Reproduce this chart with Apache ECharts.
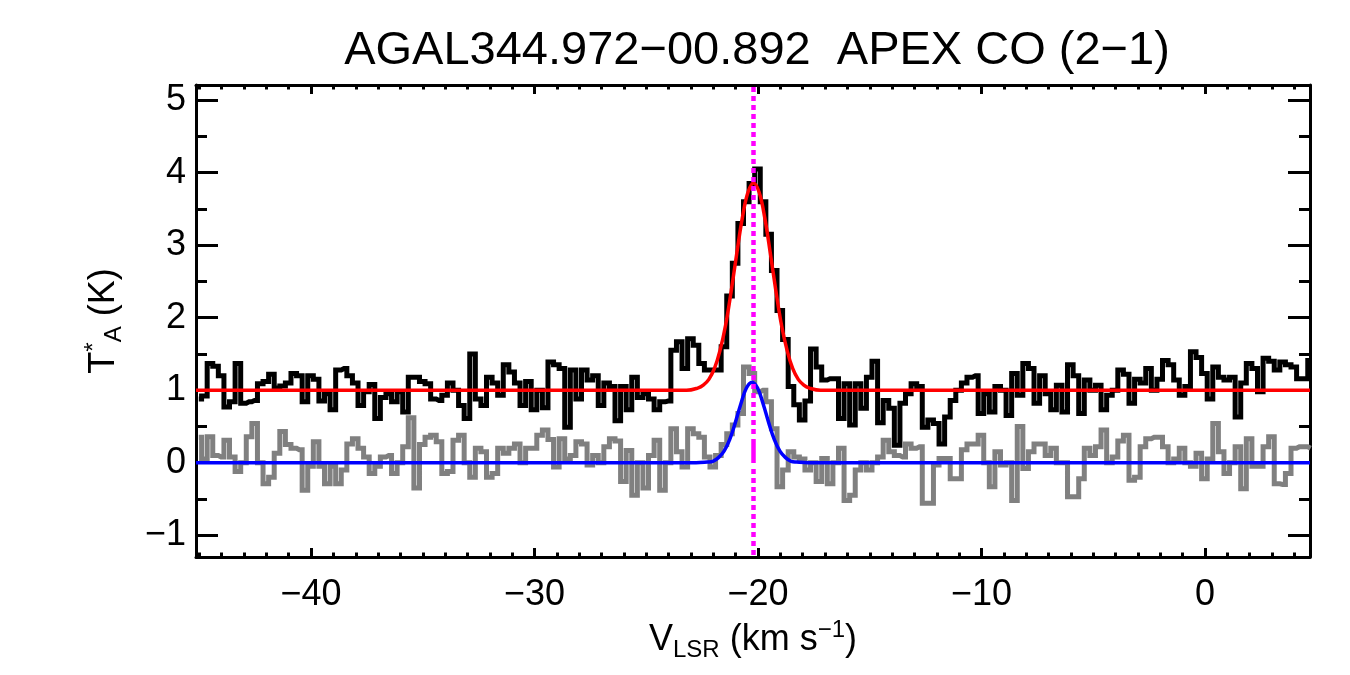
<!DOCTYPE html>
<html>
<head>
<meta charset="utf-8">
<title>AGAL344.972-00.892 APEX CO (2-1)</title>
<script src="https://cdn.jsdelivr.net/npm/echarts@6.0.0/dist/echarts.min.js"></script>
<style>
  html, body { margin: 0; padding: 0; background: #fff; }
  #chart { width: 1350px; height: 675px; }
</style>
</head>
<body>
<div id="chart"></div>
<script>
// spectrum: 0.25 km/s channels, first channel centre at -45.025 km/s
var chanStart = -45.025;
var chanWidth = 0.25;

// CO (2-1), plotted with +1 K offset (black)
var coT = [
  0.88, 0.92, 1.37, 1.33, 1.20, 0.77, 0.84, 1.37, 0.82, 0.84,
  0.86, 1.09, 1.12, 1.22, 1.03, 1.06, 1.10, 1.23, 1.20, 0.84,
  1.20, 1.15, 0.85, 0.95, 0.73, 1.28, 1.30, 1.20, 1.10, 0.79,
  0.98, 1.08, 0.61, 0.90, 0.95, 0.84, 0.98, 0.70, 1.18, 1.18,
  1.12, 1.09, 0.88, 0.86, 0.93, 1.10, 1.00, 0.79, 0.61, 1.50,
  0.88, 0.79, 1.18, 1.10, 0.93, 1.35, 1.25, 1.10, 0.79, 1.12,
  0.73, 1.00, 0.76, 1.39, 1.35, 1.30, 0.49, 1.28, 0.88, 1.28,
  1.14, 1.20, 0.79, 1.10, 1.05, 0.58, 1.05, 0.73, 1.18, 0.90,
  0.95, 0.88, 0.73, 0.84, 0.85, 1.55, 1.67, 1.30, 1.71, 1.62,
  1.37, 1.28, 1.28, 1.28, 1.60, 2.30, 2.75, 3.30, 3.60, 3.85,
  4.05, 3.60, 3.15, 2.65, 2.10, 1.70, 1.05, 0.80, 0.59, 0.85,
  1.57, 1.32, 1.14, 1.16, 1.16, 0.61, 1.09, 0.52, 1.09, 0.75,
  1.18, 1.40, 0.55, 0.86, 0.75, 0.24, 0.82, 0.95, 1.09, 1.05,
  0.49, 0.59, 0.54, 0.26, 0.63, 0.86, 1.00, 1.10, 1.18, 1.20,
  0.68, 0.95, 0.70, 1.05, 1.00, 0.65, 1.23, 0.93, 1.37, 1.30,
  0.82, 1.20, 0.95, 0.73, 1.07, 0.70, 1.35, 1.20, 0.68, 1.14,
  1.00, 1.07, 0.73, 0.93, 1.00, 1.28, 1.22, 0.82, 1.15, 1.10,
  1.30, 1.00, 1.15, 1.41, 1.35, 1.14, 0.93, 1.05, 1.53, 1.45,
  1.23, 0.88, 1.32, 1.18, 1.14, 1.18, 0.63, 1.10, 1.37, 1.30,
  0.98, 1.44, 1.40, 1.28, 1.39, 1.35, 1.32, 1.16, 1.16, 1.41
];

// second spectrum, no offset (grey)
var isoT = [
  0.35, 0.05, 0.36, 0.10, 0.08, 0.31, 0.08, -0.12, 0.00, 0.36,
  0.54, 0.00, -0.29, -0.20, 0.13, 0.43, 0.25, 0.20, 0.18, -0.38,
  -0.05, 0.29, -0.05, -0.29, -0.05, -0.29, -0.10, 0.26, 0.33, 0.20,
  0.08, -0.15, -0.05, 0.08, 0.10, -0.15, 0.00, 0.22, 0.62, -0.35,
  0.25, 0.35, 0.38, 0.29, -0.15, -0.12, 0.31, 0.38, 0.00, -0.20,
  0.20, 0.15, -0.20, -0.15, 0.20, 0.13, 0.20, 0.26, 0.00, 0.20,
  0.20, 0.38, 0.45, 0.32, -0.06, 0.33, 0.05, 0.10, 0.29, 0.26,
  -0.03, 0.10, 0.00, 0.22, 0.33, 0.30, -0.26, 0.17, -0.45, 0.00,
  -0.35, 0.10, 0.31, -0.38, 0.00, 0.47, 0.15, -0.06, 0.47, 0.40,
  0.35, 0.08, -0.06, 0.10, 0.25, 0.40, 0.52, 0.68, 1.32, 1.23,
  0.98, 1.00, 0.84, 0.47, -0.33, -0.10, 0.15, 0.08, 0.05, -0.10,
  0.00, -0.26, 0.06, -0.29, 0.00, 0.20, -0.52, -0.45, -0.10, 0.00,
  -0.10, 0.00, 0.08, 0.31, 0.15, 0.10, 0.08, 0.26, 0.20, 0.22,
  -0.56, -0.56, -0.03, 0.06, 0.06, -0.22, -0.22, 0.18, 0.26, 0.26,
  0.38, 0.00, -0.33, 0.15, -0.03, 0.00, -0.52, 0.50, -0.08, 0.15,
  0.26, 0.26, 0.10, 0.20, 0.00, 0.00, -0.47, -0.47, -0.22, 0.20,
  0.10, 0.22, 0.45, 0.00, 0.08, 0.30, 0.38, -0.24, -0.20, 0.22,
  0.33, 0.35, 0.35, 0.22, 0.00, 0.05, 0.20, 0.00, -0.05, 0.13,
  -0.22, 0.05, 0.54, 0.15, -0.15, 0.00, 0.22, -0.36, 0.33, -0.05,
  -0.05, 0.22, 0.36, -0.29, -0.30, -0.15, 0.20, 0.22, 0.22, 0.20
];

// gaussian fits
var fitCoV = [-45.15, -23.2, -22.7, -22.45, -22.2, -21.95, -21.7, -21.45, -21.2, -20.95, -20.7, -20.45, -20.2,
              -19.95, -19.7, -19.45, -19.2, -18.95, -18.7, -18.45, -18.2, -17.95, -17.7, -17.2, 4.7];
var fitCoT = [1.0, 1.0, 1.03, 1.07, 1.15, 1.30, 1.55, 1.90, 2.37, 2.89, 3.38, 3.73, 3.86,
              3.73, 3.38, 2.89, 2.37, 1.90, 1.55, 1.30, 1.15, 1.07, 1.03, 1.0, 1.0];
var fitIsoV = [-45.15, -22.77, -22.27, -22.02, -21.77, -21.52, -21.27, -21.02, -20.77, -20.52, -20.27,
               -20.02, -19.77, -19.52, -19.27, -19.02, -18.77, -18.52, -18.27, -17.77, 4.7];
var fitIsoT = [0, 0, 0.01, 0.02, 0.07, 0.16, 0.32, 0.55, 0.81, 1.03, 1.11,
               1.03, 0.81, 0.55, 0.32, 0.16, 0.07, 0.02, 0.01, 0, 0];

var vlsr = -20.2;

var xRange = [-45.15, 4.7];
var yRange = [-1.3, 5.21];
var xTicks = [-40, -30, -20, -10, 0];
var yTicks = [-1, 0, 1, 2, 3, 4, 5];
var yMinorTicks = [-0.5, 0.5, 1.5, 2.5, 3.5, 4.5];
var xMinorTicks = [];
for (var t = -45; t <= 4; t++) xMinorTicks.push(t);

var FONT = '"Liberation Sans", Arial, Helvetica, sans-serif';

function minus(v) {
    return String(v).replace('-', '\u2212');
}

function pairs(xs, ys) {
    return ys.map(function (y, i) { return [xs[i], y]; });
}

var velocity = coT.map(function (_, i) { return +(chanStart + i * chanWidth).toFixed(3); });

function xAxis(position, ticks, len, main) {
    return {
        type: 'value', position: position, min: xRange[0], max: xRange[1],
        axisLine: { show: main, onZero: false, lineStyle: { color: '#000', width: 3 } },
        axisTick: { show: true, inside: true, length: len, customValues: ticks,
            lineStyle: { color: '#000', width: 3 } },
        axisLabel: { show: false },
        splitLine: { show: false }
    };
}

function yAxis(position, ticks, len, main) {
    return {
        type: 'value', position: position, min: yRange[0], max: yRange[1],
        axisLine: { show: main, onZero: false, lineStyle: { color: '#000', width: 3 } },
        axisTick: { show: true, inside: true, length: len, customValues: ticks,
            lineStyle: { color: '#000', width: 3 } },
        axisLabel: { show: false },
        splitLine: { show: false }
    };
}

var nameRich = {
    m: { fontSize: 36, fontFamily: FONT, color: '#000', lineHeight: 44 },
    sub: { fontSize: 24, fontFamily: FONT, color: '#000', lineHeight: 22, verticalAlign: 'bottom' },
    sup: { fontSize: 24, fontFamily: FONT, color: '#000', lineHeight: 22, verticalAlign: 'top' }
};

var xBottom = xAxis('bottom', xTicks, 9, true);
xBottom.axisLabel = {
    show: true, customValues: xTicks, margin: 20, color: '#000',
    fontSize: 36, fontFamily: FONT, formatter: minus
};
xBottom.name = '{m|V}{sub|LSR}{m| (km s}{sup|\u22121}{m|)}';
xBottom.nameLocation = 'middle';
xBottom.nameGap = 50;
xBottom.nameTextStyle = { color: '#000', fontFamily: FONT, fontSize: 36, rich: nameRich };

var yLeft = yAxis('left', yTicks, 22, true);
yLeft.axisLabel = {
    show: true, customValues: yTicks, margin: 10, color: '#000',
    fontSize: 36, fontFamily: FONT, formatter: minus
};
yLeft.name = '{m|T}{sup|*}{sub|A}{m| (K)}';
yLeft.nameLocation = 'middle';
yLeft.nameGap = 70;
yLeft.nameTextStyle = { color: '#000', fontFamily: FONT, fontSize: 36, rich: nameRich };

// IDL-ish dash-dot line: one long dash then a run of dots
var dashPattern = [24, 5];
for (var k = 0; k < 38; k++) dashPattern.push(5, 4);
dashPattern.push(5, 6);

var chart = echarts.init(document.getElementById('chart'));

chart.setOption({
    animation: false,
    backgroundColor: '#fff',
    title: {
        text: 'AGAL344.972\u221200.892  APEX CO (2\u22121)',
        left: 752, top: 23, textAlign: 'center',
        textStyle: { color: '#000', fontSize: 47, fontWeight: 'normal', fontFamily: FONT }
    },
    grid: { left: 196, right: 40, top: 85, bottom: 118, containLabel: false, outerBoundsMode: 'none' },
    xAxis: [
        xBottom,
        xAxis('bottom', xMinorTicks, 4.5, false),
        xAxis('top', xTicks, 9, true),
        xAxis('top', xMinorTicks, 4.5, false)
    ],
    yAxis: [
        yLeft,
        yAxis('left', yMinorTicks, 11, false),
        yAxis('right', yTicks, 22, true),
        yAxis('right', yMinorTicks, 11, false)
    ],
    series: [
        {
            name: 'iso', type: 'line', step: 'middle', showSymbol: false,
            data: pairs(velocity, isoT),
            lineStyle: { color: '#808080', width: 5, join: 'miter', cap: 'butt' }
        },
        {
            name: 'CO', type: 'line', step: 'middle', showSymbol: false,
            data: pairs(velocity, coT),
            lineStyle: { color: '#000', width: 5, join: 'miter', cap: 'butt' }
        },
        {
            name: 'fit iso', type: 'line', showSymbol: false, smooth: 0.4,
            data: pairs(fitIsoV, fitIsoT),
            lineStyle: { color: '#0000ff', width: 3.5 }
        },
        {
            name: 'fit CO', type: 'line', showSymbol: false, smooth: 0.4,
            data: pairs(fitCoV, fitCoT),
            lineStyle: { color: '#ff0000', width: 3.5 },
            markLine: {
                silent: true, symbol: ['none', 'none'], animation: false,
                label: { show: false },
                lineStyle: { color: '#ff00ff', width: 4.5, type: dashPattern, dashOffset: 288 },
                data: [{ xAxis: vlsr }]
            }
        }
    ]
});
</script>
</body>
</html>
